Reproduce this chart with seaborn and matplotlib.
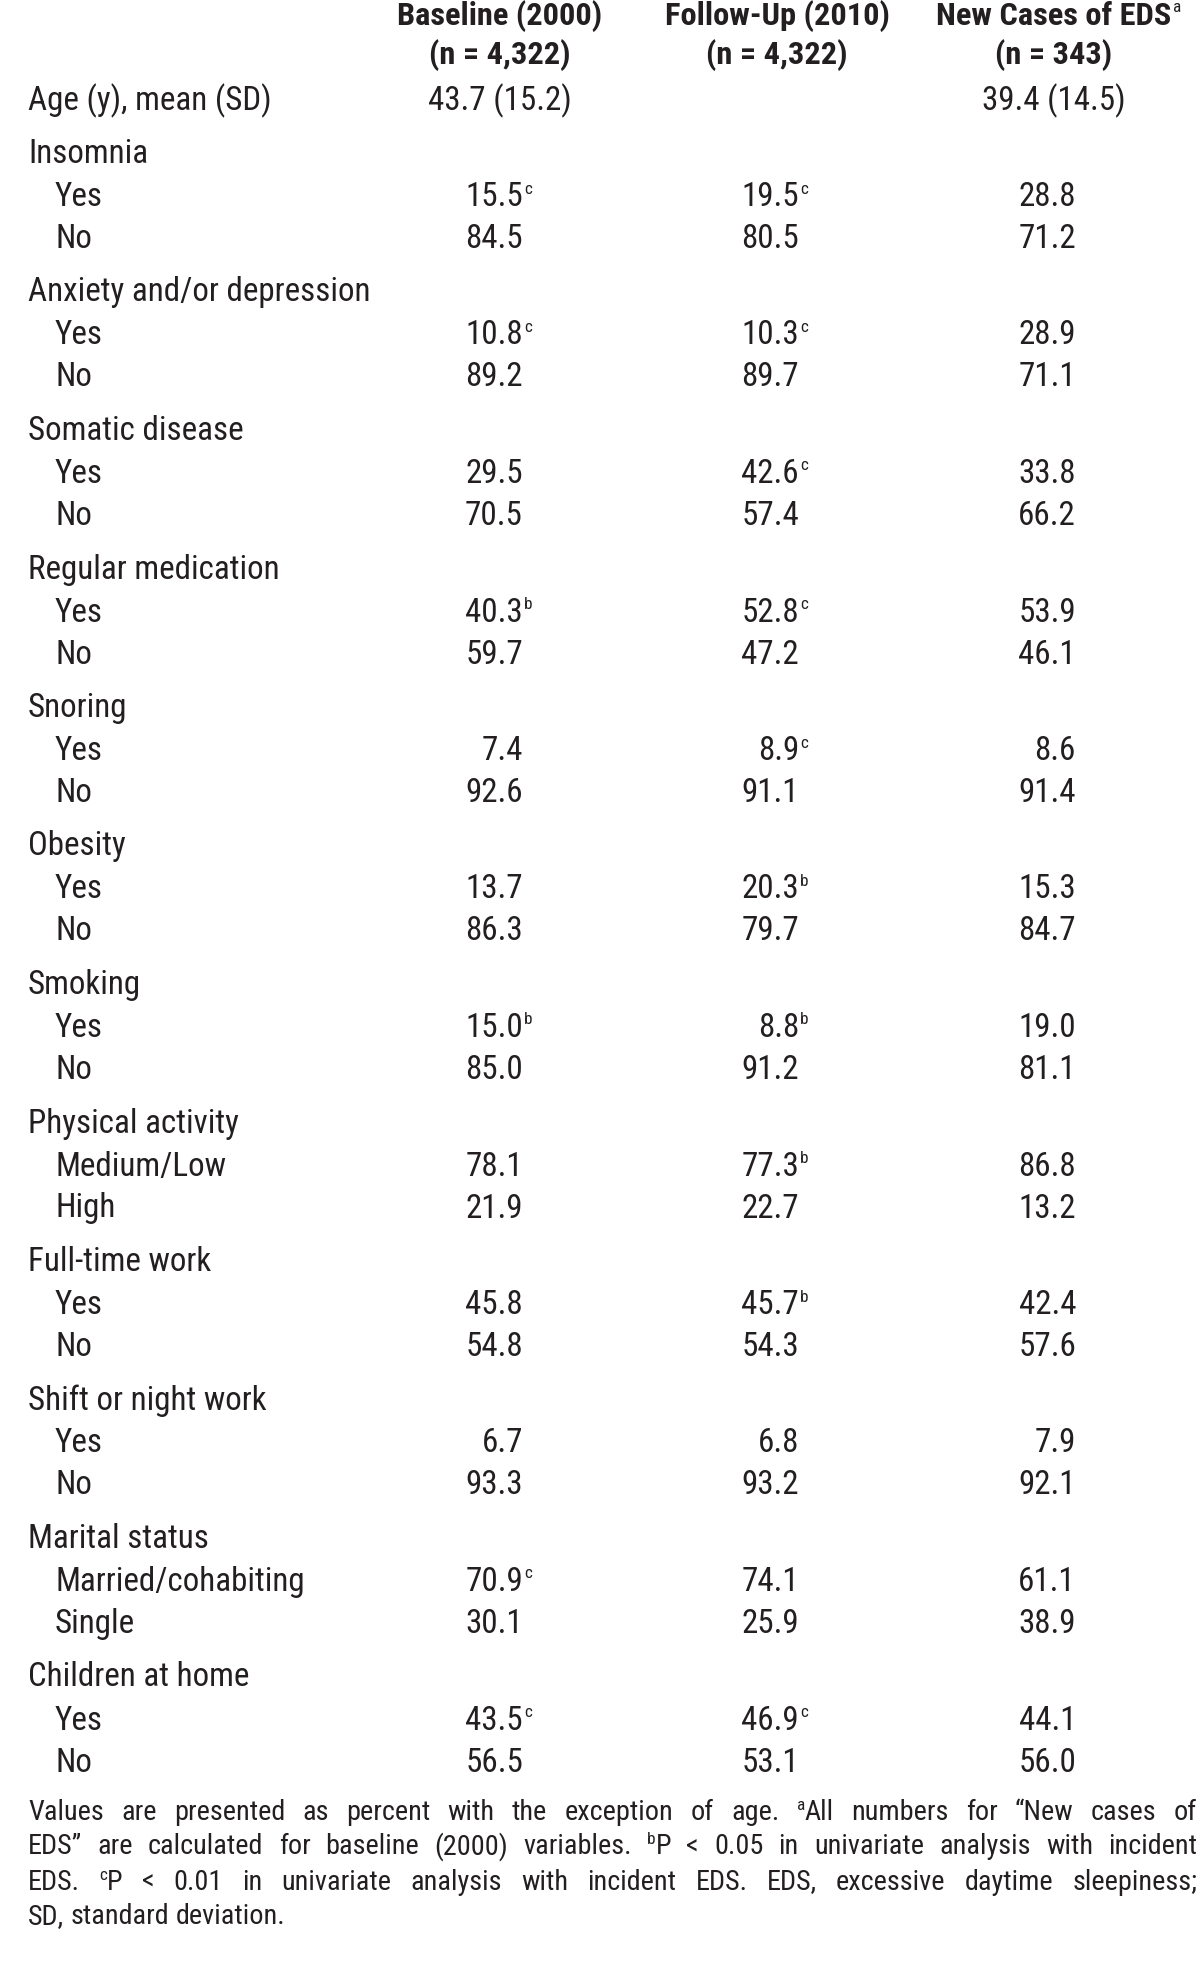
import matplotlib
matplotlib.use('Agg')
import matplotlib.pyplot as plt
import matplotlib.font_manager as fm
import seaborn as sns

# Table content
col_titles = ['Baseline (2000)', 'Follow-Up (2010)', 'New Cases of EDS']
col_title_sup = ['', '', 'a']
col_n = ['(n = 4,322)', '(n = 4,322)', '(n = 343)']
age_row = ['43.7 (15.2)', '', '39.4 (14.5)']

groups = ['Insomnia', 'Anxiety and/or depression', 'Somatic disease', 'Regular medication',
          'Snoring', 'Obesity', 'Smoking', 'Physical activity', 'Full-time work',
          'Shift or night work', 'Marital status', 'Children at home']
levels = [('Yes', 'No')] * 7 + [('Medium/Low', 'High')] + [('Yes', 'No')] * 2 + \
         [('Married/cohabiting', 'Single'), ('Yes', 'No')]

baseline = [15.5, 84.5, 10.8, 89.2, 29.5, 70.5, 40.3, 59.7, 7.4, 92.6, 13.7, 86.3,
            15.0, 85.0, 78.1, 21.9, 45.8, 54.8, 6.7, 93.3, 70.9, 30.1, 43.5, 56.5]
baseline_sup = ['c', '', 'c', '', '', '', 'b', '', '', '', '', '',
                'b', '', '', '', '', '', '', '', 'c', '', 'c', '']
followup = [19.5, 80.5, 10.3, 89.7, 42.6, 57.4, 52.8, 47.2, 8.9, 91.1, 20.3, 79.7,
            8.8, 91.2, 77.3, 22.7, 45.7, 54.3, 6.8, 93.2, 74.1, 25.9, 46.9, 53.1]
followup_sup = ['c', '', 'c', '', 'c', '', 'c', '', 'c', '', 'b', '',
                'b', '', 'b', '', 'b', '', '', '', '', '', 'c', '']
newcases = [28.8, 71.2, 28.9, 71.1, 33.8, 66.2, 53.9, 46.1, 8.6, 91.4, 15.3, 84.7,
            19.0, 81.1, 86.8, 13.2, 42.4, 57.6, 7.9, 92.1, 61.1, 38.9, 44.1, 56.0]
newcases_sup = [''] * 24

footnote_lines = [
    [('Values are presented as percent with the exception of age. ', ''), ('a', 's'),
     ('All numbers for \u201cNew cases of', '')],
    [('EDS\u201d are calculated for baseline (2000) variables. ', ''), ('b', 's'),
     ('P < 0.05 in univariate analysis with incident', '')],
    [('EDS. ', ''), ('c', 's'),
     ('P < 0.01 in univariate analysis with incident EDS. EDS, excessive daytime sleepiness;', '')],
    [('SD, standard deviation.', '')],
]

sns.set_theme(style='white')

# pick a narrow sans if one is installed
fonts = fm.fontManager.ttflist
fam, stretch = 'Liberation Sans', 'normal'
names = {f.name for f in fonts}
if 'Liberation Sans Narrow' in names:
    fam = 'Liberation Sans Narrow'
elif 'Arial Narrow' in names:
    fam = 'Arial Narrow'
elif 'Roboto Condensed' in names:
    fam = 'Roboto Condensed'
else:
    for want in ['Liberation Sans', 'Roboto', 'Noto Sans', 'Open Sans', 'DejaVu Sans']:
        cond = [f for f in fonts if f.name == want and 'condensed' in str(f.stretch)]
        if cond:
            fam, stretch = want, 'condensed'
            break
        cond = [f for f in fonts if f.name.startswith(want) and
                ('Condensed' in f.name or 'Narrow' in f.name)]
        if cond:
            fam = cond[0].name
            break
plt.rcParams['font.family'] = [fam, 'DejaVu Sans']
fp = dict(family=[fam, 'DejaVu Sans'], fontstretch=stretch)
ink = '#231f20'

fig = plt.figure(figsize=(12, 19.82), dpi=100)
ax = fig.add_axes([0, 0, 1, 1])
ax.set_xlim(0, 1200)
ax.set_ylim(1982, 0)
ax.axis('off')
renderer = fig.canvas.get_renderer()


def width_of(txt, size, weight='normal'):
    t = ax.text(0, 0, txt, fontsize=size, fontweight=weight, **fp)
    w = t.get_window_extent(renderer).width
    t.remove()
    return w


# sizes fitted so text widths match the reference
body = 24 * 244 / width_of('Age (y), mean (SD)', 24)
head = 24 * 206 / width_of('Baseline (2000)', 24, 'bold')
foot = 24 * 257 / width_of('SD, standard deviation.', 24)
body = min(body, 26)
head = min(head, 26)
foot = min(foot, 24)
sup_size = body * 0.52
col_center = [500, 777, 1054]
col_right = [523, 799, 1076]

# header
for i in range(3):
    ax.text(col_center[i], 16, col_titles[i], fontsize=head, fontweight='bold',
            ha='center', va='center', color=ink, **fp)
    if col_title_sup[i]:
        w = width_of(col_titles[i], head, 'bold')
        ax.text(col_center[i] + w / 2 + 1, 8, col_title_sup[i], fontsize=sup_size,
                ha='left', va='center', color=ink, **fp)
    ax.text(col_center[i], 55, col_n[i], fontsize=head, fontweight='bold',
            ha='center', va='center', color=ink, **fp)

ax.text(28, 101, 'Age (y), mean (SD)', fontsize=body, va='center', color=ink, **fp)
for i in range(3):
    if age_row[i]:
        ax.text(col_center[i], 101, age_row[i], fontsize=body, ha='center', va='center',
                color=ink, **fp)

cols = [(baseline, baseline_sup), (followup, followup_sup), (newcases, newcases_sup)]
for g, name in enumerate(groups):
    y0 = 154 + 138.5 * g
    ax.text(28, y0, name, fontsize=body, va='center', color=ink, **fp)
    for k in range(2):
        y = y0 + 43 + 42 * k
        idx = 2 * g + k
        ax.text(55, y, levels[g][k], fontsize=body, va='center', color=ink, **fp)
        for c, (vals, sups) in enumerate(cols):
            ax.text(col_right[c], y, f'{vals[idx]:.1f}', fontsize=body,
                    ha='right', va='center', color=ink, **fp)
            if sups[idx]:
                ax.text(col_right[c] + 1, y - 8, sups[idx], fontsize=sup_size,
                        ha='left', va='center', color=ink, **fp)

# footnote, justified to the full width
x_left, x_right = 28, 1197
foot_y = [1812, 1847, 1882, 1917]
space = width_of('a b', foot) - width_of('ab', foot)
for li, runs in enumerate(footnote_lines):
    words = []
    cur = []
    for txt, kind in runs:
        if kind == 's':
            cur.append((txt, 's'))
            continue
        parts = txt.split(' ')
        for pi, p in enumerate(parts):
            if pi > 0:
                if cur:
                    words.append(cur)
                cur = []
            if p:
                cur.append((p, ''))
    if cur:
        words.append(cur)
    widths = [sum(width_of(t, sup_size if k == 's' else foot) for t, k in w) for w in words]
    if li < len(footnote_lines) - 1:
        gap = (x_right - x_left - sum(widths)) / (len(words) - 1)
    else:
        gap = space
    x = x_left
    for w in words:
        for t, k in w:
            if k == 's':
                ax.text(x, foot_y[li] - 7, t, fontsize=sup_size, va='center', color=ink, **fp)
                x += width_of(t, sup_size)
            else:
                ax.text(x, foot_y[li], t, fontsize=foot, va='center', color=ink, **fp)
                x += width_of(t, foot)
        x += gap

fig.savefig('out.png', dpi=100, facecolor='white')
